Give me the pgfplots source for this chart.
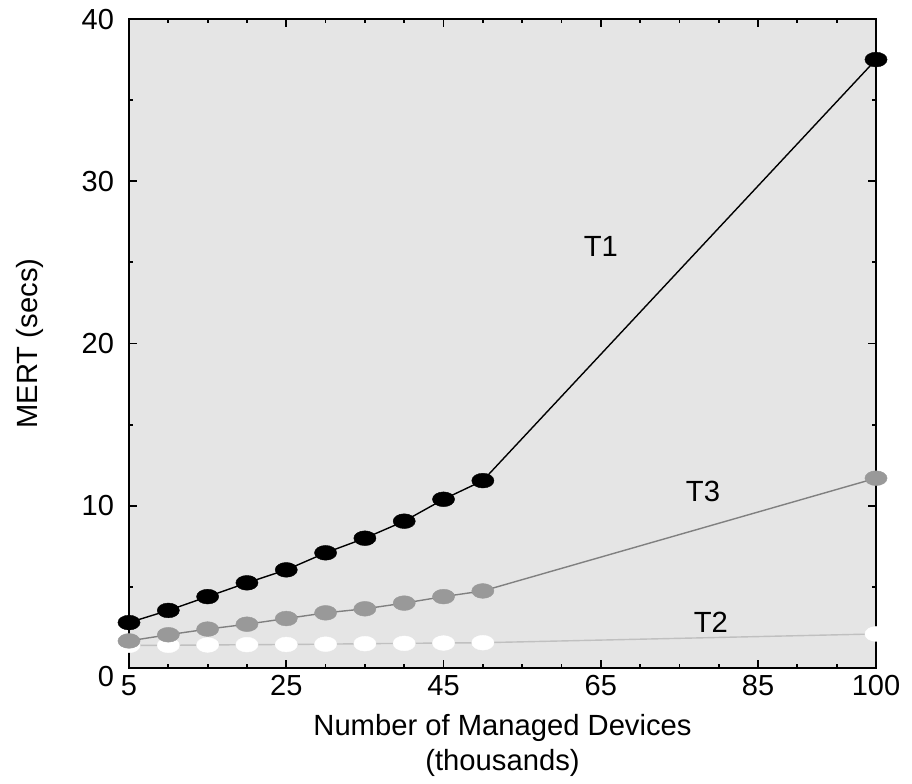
\documentclass[border=0pt]{standalone}
\usepackage{pgfplots}
\pgfplotsset{compat=1.18}
\usepackage{fontspec}
\setmainfont{Liberation Sans}
\definecolor{bggray}{HTML}{E5E5E5}
\definecolor{tthree}{HTML}{999999}
\definecolor{tthreeline}{HTML}{808080}
\definecolor{ttwoline}{HTML}{C0C0C0}
\begin{document}
\begin{tikzpicture}
\begin{axis}[
  scale only axis,
  width=373.5pt, height=324.5pt,
  xmin=5, xmax=100, ymin=0, ymax=40,
  axis background/.style={fill=bggray},
  axis line style={line width=1.3pt},
  xtick={5,25,45,65,85,100},
  minor xtick={10,15,20,30,35,40,50,55,60,70,75,80,90,95},
  ytick={10,20,30,40},
  extra y ticks={0},
  extra y tick style={yticklabel style={yshift=-4pt}},
  minor ytick={5,15,25,35},
  tick align=inside,
  major tick length=4pt, minor tick length=2pt,
  every tick/.style={black, line width=0.9pt},
  tick label style={font=\fontsize{14.5}{16}\selectfont},
  /pgf/number format/assume math mode=true,
  yticklabel style={xshift=-4pt},
  xlabel={Number of Managed Devices\\(thousands)},
  xlabel style={font=\fontsize{14.6}{17.5}\selectfont, align=center, at={(rel axis cs:0.5,-0.119)}, anchor=center},
  ylabel={MERT (secs)},
  ylabel style={font=\fontsize{14.6}{16}\selectfont, at={(rel axis cs:-0.1325,0.5)}, anchor=center, rotate=0},
  clip=false,
]
\path (rel axis cs:-0.1727,-0.1772) rectangle (rel axis cs:1.0482,1.0293);
% T2
\addplot[color=ttwoline, line width=0.7pt, mark=*, mark size=3.7pt,
  mark options={draw=white, fill=white, line width=0.2pt, xscale=1.5}] coordinates {
(5,1.4) (10,1.4) (15,1.42) (20,1.44) (25,1.45) (30,1.47) (35,1.5) (40,1.52) (45,1.54) (50,1.56) (100,2.1)};
% T3
\addplot[color=tthreeline, line width=0.7pt, mark=*, mark size=3.7pt,
  mark options={draw=tthree, fill=tthree, line width=0.2pt, xscale=1.5}] coordinates {
(5,1.67) (10,2.05) (15,2.4) (20,2.7) (25,3.05) (30,3.4) (35,3.65) (40,4.0) (45,4.4) (50,4.75) (100,11.7)};
% T1
\addplot[color=black, line width=0.7pt, mark=*, mark size=3.7pt,
  mark options={draw=black, fill=black, line width=0.2pt, xscale=1.5}] coordinates {
(5,2.8) (10,3.55) (15,4.4) (20,5.25) (25,6.05) (30,7.1) (35,8.0) (40,9.05) (45,10.4) (50,11.55) (100,37.5)};
\node[font=\fontsize{14.6}{16}\selectfont] at (axis cs:65,26) {T1};
\node[font=\fontsize{14.6}{16}\selectfont] at (axis cs:78,10.9) {T3};
\node[font=\fontsize{14.6}{16}\selectfont] at (axis cs:79,2.8) {T2};
\end{axis}
\end{tikzpicture}
\end{document}
